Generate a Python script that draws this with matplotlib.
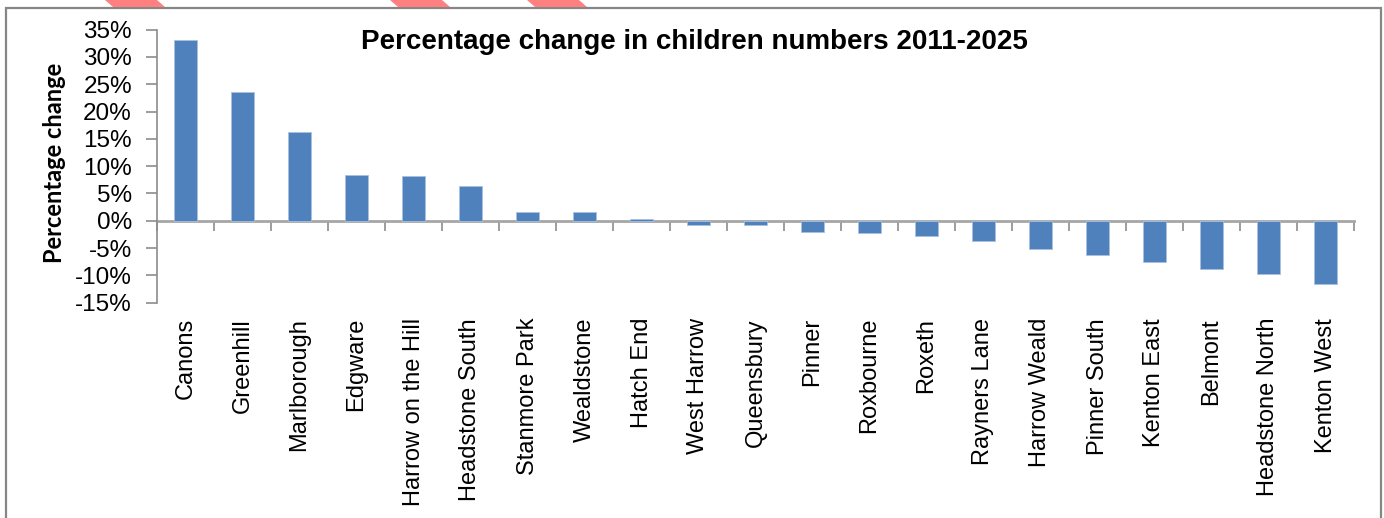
import matplotlib.pyplot as plt
from matplotlib.patches import Rectangle, Polygon
from matplotlib.ticker import FuncFormatter, MultipleLocator

# ward names and percentage change 2011-2025
wards = ['Canons', 'Greenhill', 'Marlborough', 'Edgware', 'Harrow on the Hill',
         'Headstone South', 'Stanmore Park', 'Wealdstone', 'Hatch End', 'West Harrow',
         'Queensbury', 'Pinner', 'Roxbourne', 'Roxeth', 'Rayners Lane', 'Harrow Weald',
         'Pinner South', 'Kenton East', 'Belmont', 'Headstone North', 'Kenton West']
change = [33.1, 23.5, 16.3, 8.4, 8.2, 6.3, 1.6, 1.6, 0.3, -0.8,
          -0.8, -2.1, -2.3, -2.8, -3.7, -5.1, -6.2, -7.6, -8.9, -9.8, -11.6]

W, H = 1384, 518
fig = plt.figure(figsize=(W / 100, H / 100), dpi=100)
plt.rcParams['font.family'] = ['Liberation Sans', 'DejaVu Sans']

axis_grey = '#8c8c8c'

# chart border
fig.patches.append(Rectangle((6 / W, -0.1), (1381 - 6) / W, 1.1 - 8 / H,
                             transform=fig.transFigure, fill=False,
                             edgecolor='#868686', linewidth=1.6))

# red stripes along the top edge
for x0 in [105, 390, 527]:
    pts = [(x0 / W, 1.0), ((x0 + 52) / W, 1.0),
           ((x0 + 60) / W, 1 - 7 / H), ((x0 + 8) / W, 1 - 7 / H)]
    fig.patches.append(Polygon(pts, closed=True, transform=fig.transFigure,
                               facecolor='#ff8080', edgecolor='none'))

ax = fig.add_axes([157 / W, 1 - 302.7 / H, (1354 - 157) / W, (302.7 - 29.6) / H])
x = list(range(len(wards)))
ax.bar(x, change, width=0.4, color='#4f81bd', edgecolor='#a9c0de', linewidth=0.6, zorder=3)

ax.set_xlim(-0.5, len(wards) - 0.5)
ax.set_ylim(-15, 35)
ax.yaxis.set_major_locator(MultipleLocator(5))
ax.yaxis.set_major_formatter(FuncFormatter(lambda v, p: f'{v:.0f}%'))
ax.tick_params(axis='y', direction='out', length=8, width=1.2, color=axis_grey,
               labelsize=17.5, pad=10)

ax.set_xticks(x)
ax.set_xticklabels(wards, rotation=90, fontsize=17)
ax.tick_params(axis='x', length=0, pad=11)

for side in ['top', 'right', 'bottom']:
    ax.spines[side].set_visible(False)
ax.spines['left'].set_color(axis_grey)
ax.spines['left'].set_linewidth(1.2)

# category axis sitting on the zero line
zero_ax = ax.secondary_xaxis(0, transform=ax.transData)
zero_ax.set_xticks([i - 0.5 for i in range(len(wards) + 1)])
zero_ax.set_xticklabels([])
zero_ax.tick_params(direction='out', length=7, width=1.2, color=axis_grey)
zero_ax.spines['bottom'].set_color('#a6a6a6')
zero_ax.spines['bottom'].set_linewidth(2)

fig.text(694 / W, 1 - 42 / H, 'Percentage change in children numbers 2011-2025',
         ha='center', va='center', fontsize=20, fontweight='bold')
fig.text(55 / W, 1 - 163 / H, 'Percentage change', rotation=90,
         ha='center', va='center', fontsize=17, fontweight='bold',
         family=['Lato', 'DejaVu Sans'])

fig.savefig('out.png', dpi=100)
